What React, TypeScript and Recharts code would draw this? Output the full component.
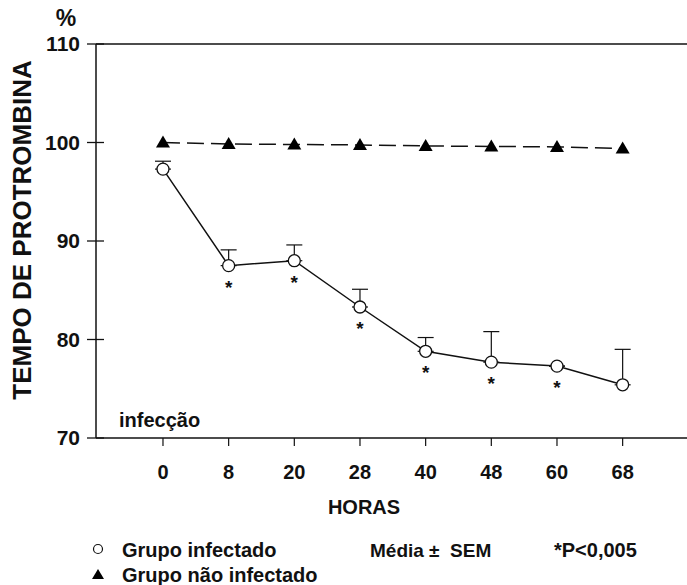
import React from 'react';
import { ComposedChart, Line, XAxis, YAxis, ErrorBar, ReferenceLine, LabelList } from 'recharts';

const hourLabels = ['0', '8', '20', '28', '40', '48', '60', '68'];
const infected = [97.3, 87.5, 88.0, 83.3, 78.8, 77.7, 77.3, 75.4];
const infectedSemUp = [0.8, 1.6, 1.6, 1.8, 1.4, 3.1, 0, 3.6];
const nonInfected = [100, 99.85, 99.8, 99.75, 99.65, 99.6, 99.55, 99.4];
const significance = ['', '*', '*', '*', '*', '*', '*', ''];
const yTicks = [70, 80, 90, 100, 110];
const legendItems = ['Grupo infectado', 'Grupo não infectado'];

const data = hourLabels.map((h, i) => ({
  idx: i,
  hour: h,
  infected: infected[i],
  err: [0, infectedSemUp[i]],
  nonInfected: nonInfected[i],
  sig: significance[i],
}));

const FONT = '"Liberation Sans", Arial, sans-serif';
const INK = '#111';

const YTick = (props: any) => {
  const { x, y, payload } = props;
  const axisX = x + 16;
  return (
    <g>
      <line x1={axisX} x2={axisX + 8} y1={y} y2={y} stroke={INK} strokeWidth={1.3} />
      <text x={x} y={y} dy={7} textAnchor="end" fontFamily={FONT} fontWeight="bold" fontSize={21} fill={INK}>
        {payload.value}
      </text>
    </g>
  );
};

const XTick = (props: any) => {
  const { x, y, payload } = props;
  return (
    <text x={x} y={y} dy={14} textAnchor="middle" fontFamily={FONT} fontWeight="bold" fontSize={20} fill={INK}>
      {hourLabels[payload.value]}
    </text>
  );
};

const TriangleDot = (p: any) => (
  <polygon
    key={`tri-${p.index}`}
    points={`${p.cx},${p.cy - 7} ${p.cx - 7},${p.cy + 5} ${p.cx + 7},${p.cy + 5}`}
    fill="#000"
  />
);

const CircleDot = (p: any) => (
  <circle key={`cir-${p.index}`} cx={p.cx} cy={p.cy} r={6} fill="#fff" stroke={INK} strokeWidth={1.3} />
);

const Asterisk = (p: any) =>
  p.value ? (
    <text x={p.x} y={p.y + 28} textAnchor="middle" fontFamily={FONT} fontWeight="bold" fontSize={19} fill={INK}>
      {p.value}
    </text>
  ) : null;

export default function App() {
  return (
    <div style={{ position: 'fixed', left: 0, top: 0, width: 687, height: 585, background: '#fff' }}>
      <ComposedChart width={687} height={585} data={data} margin={{ top: 44, right: 0, left: 0, bottom: 117 }}>
        <XAxis
          dataKey="idx"
          type="number"
          domain={[-1.02, 7.98]}
          ticks={[0, 1, 2, 3, 4, 5, 6, 7]}
          tick={<XTick />}
          tickSize={8}
          tickMargin={19}
          height={30}
          axisLine={{ stroke: INK, strokeWidth: 1.5 }}
          tickLine={{ stroke: INK, strokeWidth: 1.2 }}
          allowDataOverflow
        />
        <YAxis
          type="number"
          domain={[70, 110]}
          ticks={yTicks}
          width={96}
          tickSize={9}
          tickMargin={7}
          tick={<YTick />}
          axisLine={{ stroke: INK, strokeWidth: 1.5 }}
          tickLine={{ stroke: INK, strokeWidth: 1.3 }}
        />
        <ReferenceLine y={110} stroke={INK} strokeWidth={1.5} />
        <Line
          dataKey="nonInfected"
          stroke={INK}
          strokeWidth={1.5}
          strokeDasharray="17 7"
          dot={TriangleDot}
          isAnimationActive={false}
        />
        <Line
          dataKey="infected"
          stroke={INK}
          strokeWidth={1.5}
          dot={CircleDot}
          isAnimationActive={false}
        >
          <ErrorBar dataKey="err" width={8} strokeWidth={1.2} stroke={INK} direction="y" />
          <LabelList dataKey="sig" content={Asterisk} />
        </Line>
      </ComposedChart>
      <svg width={687} height={585} style={{ position: 'absolute', left: 0, top: 0, pointerEvents: 'none' }}>
        <text x={66} y={26} textAnchor="middle" fontFamily={FONT} fontWeight="bold" fontSize={23} fill={INK}>%</text>
        <text
          transform="translate(31,230) rotate(-90)"
          textAnchor="middle"
          fontFamily={FONT}
          fontWeight="bold"
          fontSize={26}
          fill={INK}
        >
          TEMPO DE PROTROMBINA
        </text>
        <text x={119} y={427} fontFamily={FONT} fontWeight="bold" fontSize={20} fill={INK}>infecção</text>
        <text x={364} y={514} textAnchor="middle" fontFamily={FONT} fontWeight="bold" fontSize={20} fill={INK}>HORAS</text>
        <circle cx={98} cy={549} r={4.5} fill="#fff" stroke={INK} strokeWidth={1.2} />
        <text x={122} y={557} fontFamily={FONT} fontWeight="bold" fontSize={20} fill={INK}>{legendItems[0]}</text>
        <polygon points="98,569 92,579 104,579" fill="#000" />
        <text x={122} y={582} fontFamily={FONT} fontWeight="bold" fontSize={20} fill={INK}>{legendItems[1]}</text>
        <text x={370} y={557} fontFamily={FONT} fontWeight="bold" fontSize={19} fill={INK}>{'Média ±\u00a0 SEM'}</text>
        <text x={554} y={557} fontFamily={FONT} fontWeight="bold" fontSize={20} fill={INK}>*P&lt;0,005</text>
      </svg>
    </div>
  );
}
